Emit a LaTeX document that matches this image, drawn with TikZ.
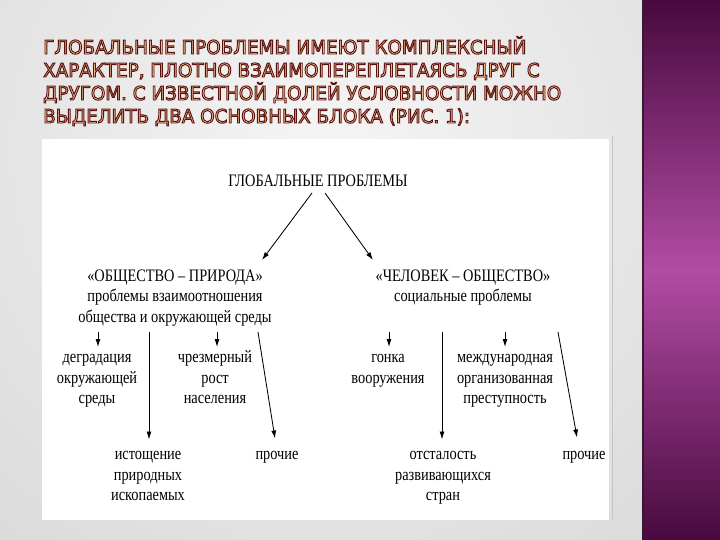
\documentclass[tikz,border=0pt]{standalone}
\usepackage{fontspec}
\setmainfont{Liberation Serif}
\newfontfamily\diagfont[FakeStretch=0.82]{Liberation Serif}
\newfontfamily\titlefont[FakeStretch=0.965]{DejaVu Sans}
\usetikzlibrary{positioning}
\usetikzlibrary{calc}
\usetikzlibrary{arrows.meta}
\definecolor{titlefill}{RGB}{249,200,158}
\definecolor{stripdark}{RGB}{72,10,62}
\definecolor{stripmid}{RGB}{178,76,164}
\definecolor{stripedge}{RGB}{58,24,52}
% outlined letters: fill plus dark stroke
\newcommand{\outlinetext}[1]{\special{pdf:literal direct 2 Tr 0.95 w 0.36 0.07 0.05 RG}#1\special{pdf:literal direct 0 Tr}}

\begin{document}
\begin{tikzpicture}[
    x=1pt, y=-1pt,
    titleline/.style={font=\titlefont\fontsize{19}{23}\selectfont, text=titlefill, inner sep=0pt},
    lbl/.style={font=\diagfont\fontsize{17.5}{20.5}\selectfont, align=center, inner sep=0pt, anchor=base},
    arr/.style={-{Latex[length=8pt,width=5pt]}, line width=0.85pt},
    >=latex
]
    \useasboundingbox (0,0) rectangle (720,540);

    % slide background
    \begin{scope}
        \clip (0,0) rectangle (642,540);
        \shade[inner color=gray!8, outer color=gray!44] (-570,-750) rectangle (1230,1050);
    \end{scope}
    \shade[top color=stripdark, bottom color=stripdark, middle color=stripmid] (642,0) rectangle (720,540);
    \fill[stripedge] (642,0) rectangle (644,540);

    % title
    \foreach \txt [count=\i] in {{ГЛОБАЛЬНЫЕ ПРОБЛЕМЫ ИМЕЮТ КОМПЛЕКСНЫЙ},
        {ХАРАКТЕР, ПЛОТНО ВЗАИМОПЕРЕПЛЕТАЯСЬ ДРУГ С},
        {ДРУГОМ. С ИЗВЕСТНОЙ ДОЛЕЙ УСЛОВНОСТИ МОЖНО},
        {ВЫДЕЛИТЬ ДВА ОСНОВНЫХ БЛОКА (РИС. 1):}}
        \node[titleline, anchor=base west] (title\i) at (43,31+23*\i) {\outlinetext{\txt}};

    % picture frame
    \fill[white] (42,139) rectangle (609,520);
    \draw[gray!45, line width=0.8pt] (612,136) -- (612,520);

    % diagram (nodes sit on the baseline of their last line)
    \node[lbl] (top) at (318,187) {ГЛОБАЛЬНЫЕ ПРОБЛЕМЫ};
    \node[lbl] (nat) at (175,322) {«ОБЩЕСТВО – ПРИРОДА»\\проблемы взаимоотношения\\общества и окружающей среды};
    \node[lbl] (soc) at (463,301.5) {«ЧЕЛОВЕК – ОБЩЕСТВО»\\социальные проблемы};

    \draw[arr] ($(top.base)+(-6,6)$) -- ($(nat.base)+(87,-62)$);
    \draw[arr] ($(top.base)+(7,6)$) -- ($(soc.base)+(-90,-41.5)$);

    \node[lbl] (degr) at (97,403.5) {деградация\\окружающей\\среды};
    \node[lbl] (ist) at (148,500.5) {истощение\\природных\\ископаемых};
    \node[lbl] (rost) at (215,403.5) {чрезмерный\\рост\\населения};
    \node[lbl] (proch1) at (277,459.5) {прочие};

    \node[lbl] (gonka) at (388,383) {гонка\\вооружения};
    \node[lbl] (otst) at (443,500.5) {отсталость\\развивающихся\\стран};
    \node[lbl] (mezh) at (505,403.5) {международная\\организованная\\преступность};
    \node[lbl] (proch2) at (584,459.5) {прочие};

    \coordinate (n1) at (98,332);
    \coordinate (n2) at (149,332);
    \coordinate (n3) at (217,332);
    \coordinate (n4) at (258,332);
    \coordinate (s1) at (389,332);
    \coordinate (s2) at (442,332);
    \coordinate (s3) at (505,332);
    \coordinate (s4) at (558,332);

    \draw[arr] (n1) -- ($(n1 |- degr.base)+(0,-56.5)$);
    \draw[arr] (n2) -- ($(n2 |- ist.base)+(0,-61)$);
    \draw[arr] (n3) -- ($(n3 |- rost.base)+(0,-56.5)$);
    \draw[arr] (n4) -- ($(proch1.base)+(-2,-21)$);

    \draw[arr] (s1) -- ($(s1 |- gonka.base)+(0,-36)$);
    \draw[arr] (s2) -- ($(s2 |- otst.base)+(0,-61)$);
    \draw[arr] (s3) -- ($(s3 |- mezh.base)+(0,-56.5)$);
    \draw[arr] (s4) -- ($(proch2.base)+(-7,-22)$);
\end{tikzpicture}
\end{document}
